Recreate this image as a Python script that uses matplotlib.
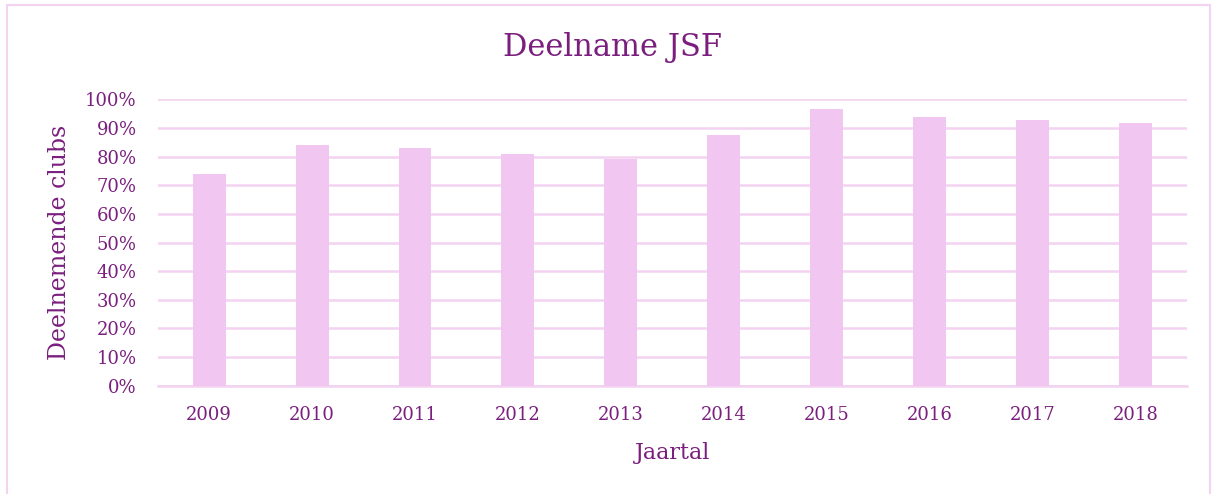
import matplotlib.pyplot as plt
from matplotlib.patches import Rectangle
from matplotlib.ticker import PercentFormatter

jaren = ['2009', '2010', '2011', '2012', '2013', '2014', '2015', '2016', '2017', '2018']
deelname = [0.74, 0.84, 0.83, 0.81, 0.793, 0.875, 0.966, 0.939, 0.929, 0.919]
yticks = [i / 10 for i in range(11)]

paars = '#7a1f7e'
roze = '#f1c6f1'
lijn = '#f3d3f1'

plt.rcParams['font.family'] = ['DejaVu Serif']

fig = plt.figure(figsize=(12.13, 4.94), dpi=100)
ax = fig.add_axes([0.130, 0.2196, 0.8486, 0.579])

x = range(len(jaren))
ax.bar(x, deelname, width=0.32, color=roze, zorder=3)
ax.set_xlim(-0.5, len(jaren) - 0.5)
ax.set_ylim(0, 1)
ax.set_yticks(yticks)
ax.yaxis.set_major_formatter(PercentFormatter(1.0, decimals=0))
ax.set_xticks(list(x))
ax.set_xticklabels(jaren)
ax.grid(axis='y', color=lijn, linewidth=1.8, zorder=0)
for s in ['top', 'right', 'left']:
    ax.spines[s].set_visible(False)
ax.spines['bottom'].set_color(lijn)
ax.spines['bottom'].set_linewidth(1.8)
ax.tick_params(axis='both', length=0, colors=paars, labelsize=13)
ax.tick_params(axis='x', pad=15)
ax.tick_params(axis='y', pad=15)

ax.set_xlabel('Jaartal', color=paars, fontsize=16, labelpad=13)
ax.set_ylabel('Deelnemende clubs', color=paars, fontsize=17, labelpad=10)
fig.text(0.505, 0.903, 'Deelname JSF', color=paars, fontsize=22,
         ha='center', va='center')

fig.patches.append(Rectangle((7 / 1213, -0.01), 1203 / 1213, 0.9995 - 5 / 494 + 0.01,
                             transform=fig.transFigure, fill=False,
                             edgecolor=lijn, linewidth=1.5))

fig.savefig('out.png', dpi=100)
